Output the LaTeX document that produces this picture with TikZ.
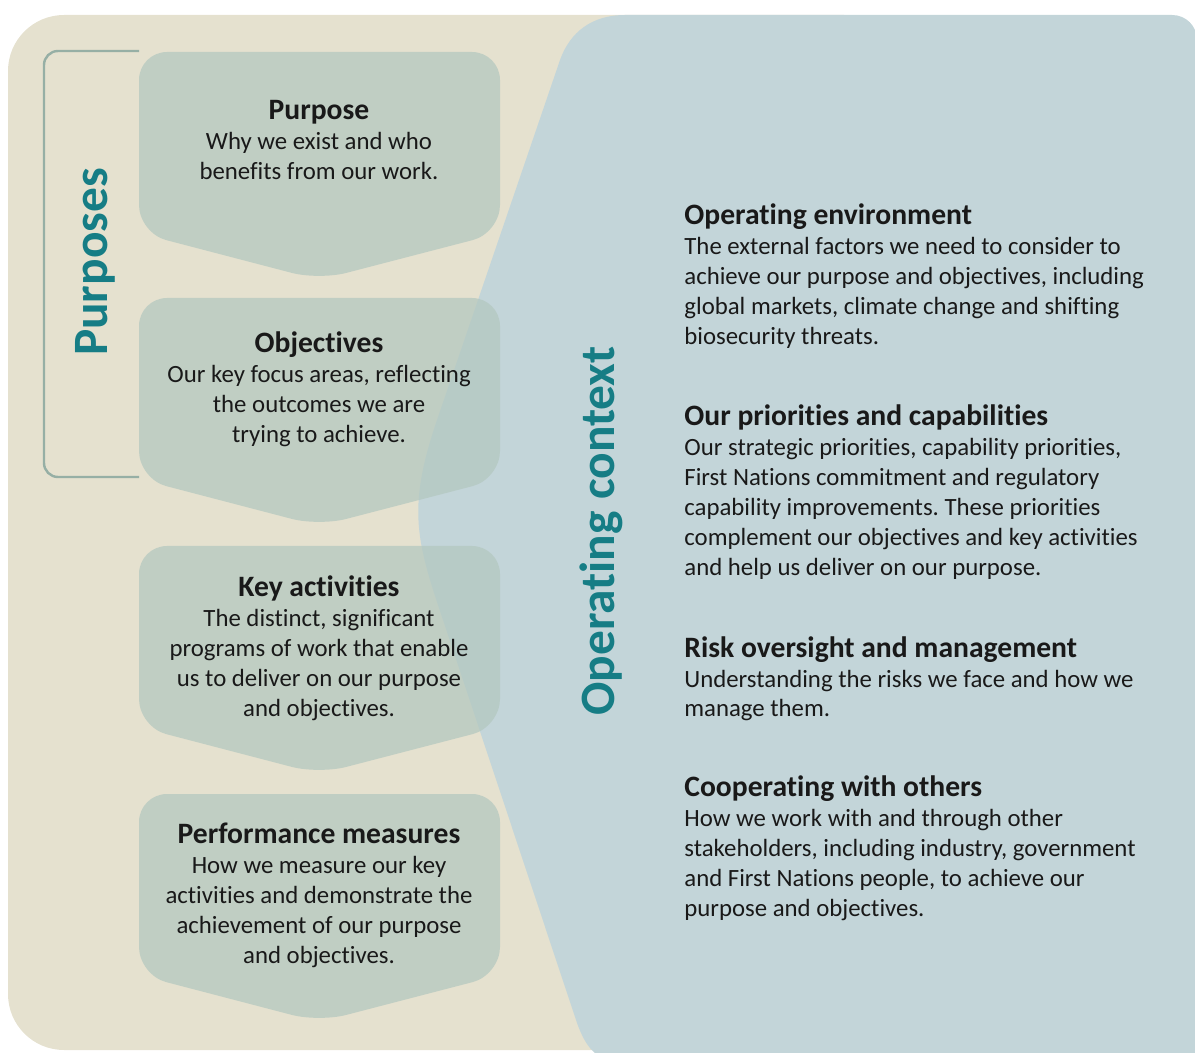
\documentclass[tikz,border=0pt]{standalone}
\usepackage{fontspec}
\setmainfont{Carlito}[Ligatures=NoCommon]
\usepackage{tikz}

\definecolor{sand}{RGB}{229,225,207}
\definecolor{mist}{RGB}{195,213,217}
\definecolor{sage}{RGB}{180,200,192}
\definecolor{deepteal}{RGB}{22,125,133}
\definecolor{bracketgray}{RGB}{150,175,165}

\newcommand{\boxhead}[1]{{\fontsize{14.8}{15}\selectfont\bfseries #1}}

\tikzset{
  chevron/.style={fill=sage, fill opacity=0.75, rounded corners=14},
  boxtext/.style={align=center, anchor=base, inner sep=0pt, text=black!90, font=\fontsize{12.4}{15}\selectfont},
  sidetext/.style={align=left, anchor=base west, inner sep=0pt, text=black!90, font=\fontsize{12.4}{15}\selectfont},
  sidelabel/.style={rotate=90, anchor=base, inner sep=0pt, text=deepteal, font=\fontsize{24.7}{28}\selectfont\bfseries}
}

\begin{document}
\frenchspacing
\begin{tikzpicture}[x=0.5pt,y=-0.5pt]
  \useasboundingbox (0,0) rectangle (1195,1053);
  \clip (0,0) rectangle (1195,1053);
  \fill[sand, rounded corners=28] (8,15) rectangle (900,1050);
  \fill[mist] (1197,1060) -- (1197,40) .. controls (1197,26) and (1186,15) .. (1172,15)
    -- (625,15) .. controls (592,15) and (570,32) .. (560,60) -- (437,420)
    .. controls (407,508) and (416,540) .. (443,620) -- (577,1023)
    .. controls (585,1045) and (595,1060) .. (615,1060) -- cycle;
  \draw[bracketgray, line width=1.2pt, rounded corners=7] (139,51) -- (44,51) -- (44,477) -- (139,477);
  \foreach \t in {52,298,546,794}
    \fill[chevron] (139,\t) -- (500,\t) -- (500,\t+181) -- (319,\t+228) -- (139,\t+181) -- cycle;

  \node[sidelabel] (purposes) at (107,262) {Purposes};
  \node[sidelabel] (context) at (614,531) {Operating context};

  \node[boxtext] (purpose) at (319,180) {\boxhead{Purpose}\\Why we exist and who\\benefits from our work.};
  \node[boxtext] (objectives) at (319,443) {\boxhead{Objectives}\\Our key focus areas, reflecting\\the outcomes we are\\trying to achieve.};
  \node[boxtext] (activities) at (319,716) {\boxhead{Key activities}\\The distinct, significant\\programs of work that enable\\us to deliver on our purpose\\and objectives.};
  \node[boxtext] (measures) at (319,963) {\boxhead{Performance measures}\\How we measure our key\\activities and demonstrate the\\achievement of our purpose\\and objectives.};

  \node[sidetext] (environment) at (684,345) {\boxhead{Operating environment}\\The external factors we need to consider to\\achieve our purpose and objectives, including\\global markets, climate change and shifting\\biosecurity threats.};
  \node[sidetext] (priorities) at (684,575) {\boxhead{Our priorities and capabilities}\\Our strategic priorities, capability priorities,\\First Nations commitment and regulatory\\capability improvements. These priorities\\complement our objectives and key activities\\and help us deliver on our purpose.};
  \node[sidetext] (risk) at (684,717) {\boxhead{Risk oversight and management}\\Understanding the risks we face and how we\\manage them.};
  \node[sidetext] (cooperating) at (684,916) {\boxhead{Cooperating with others}\\How we work with and through other\\stakeholders, including industry, government\\and First Nations people, to achieve our\\purpose and objectives.};
\end{tikzpicture}
\end{document}
